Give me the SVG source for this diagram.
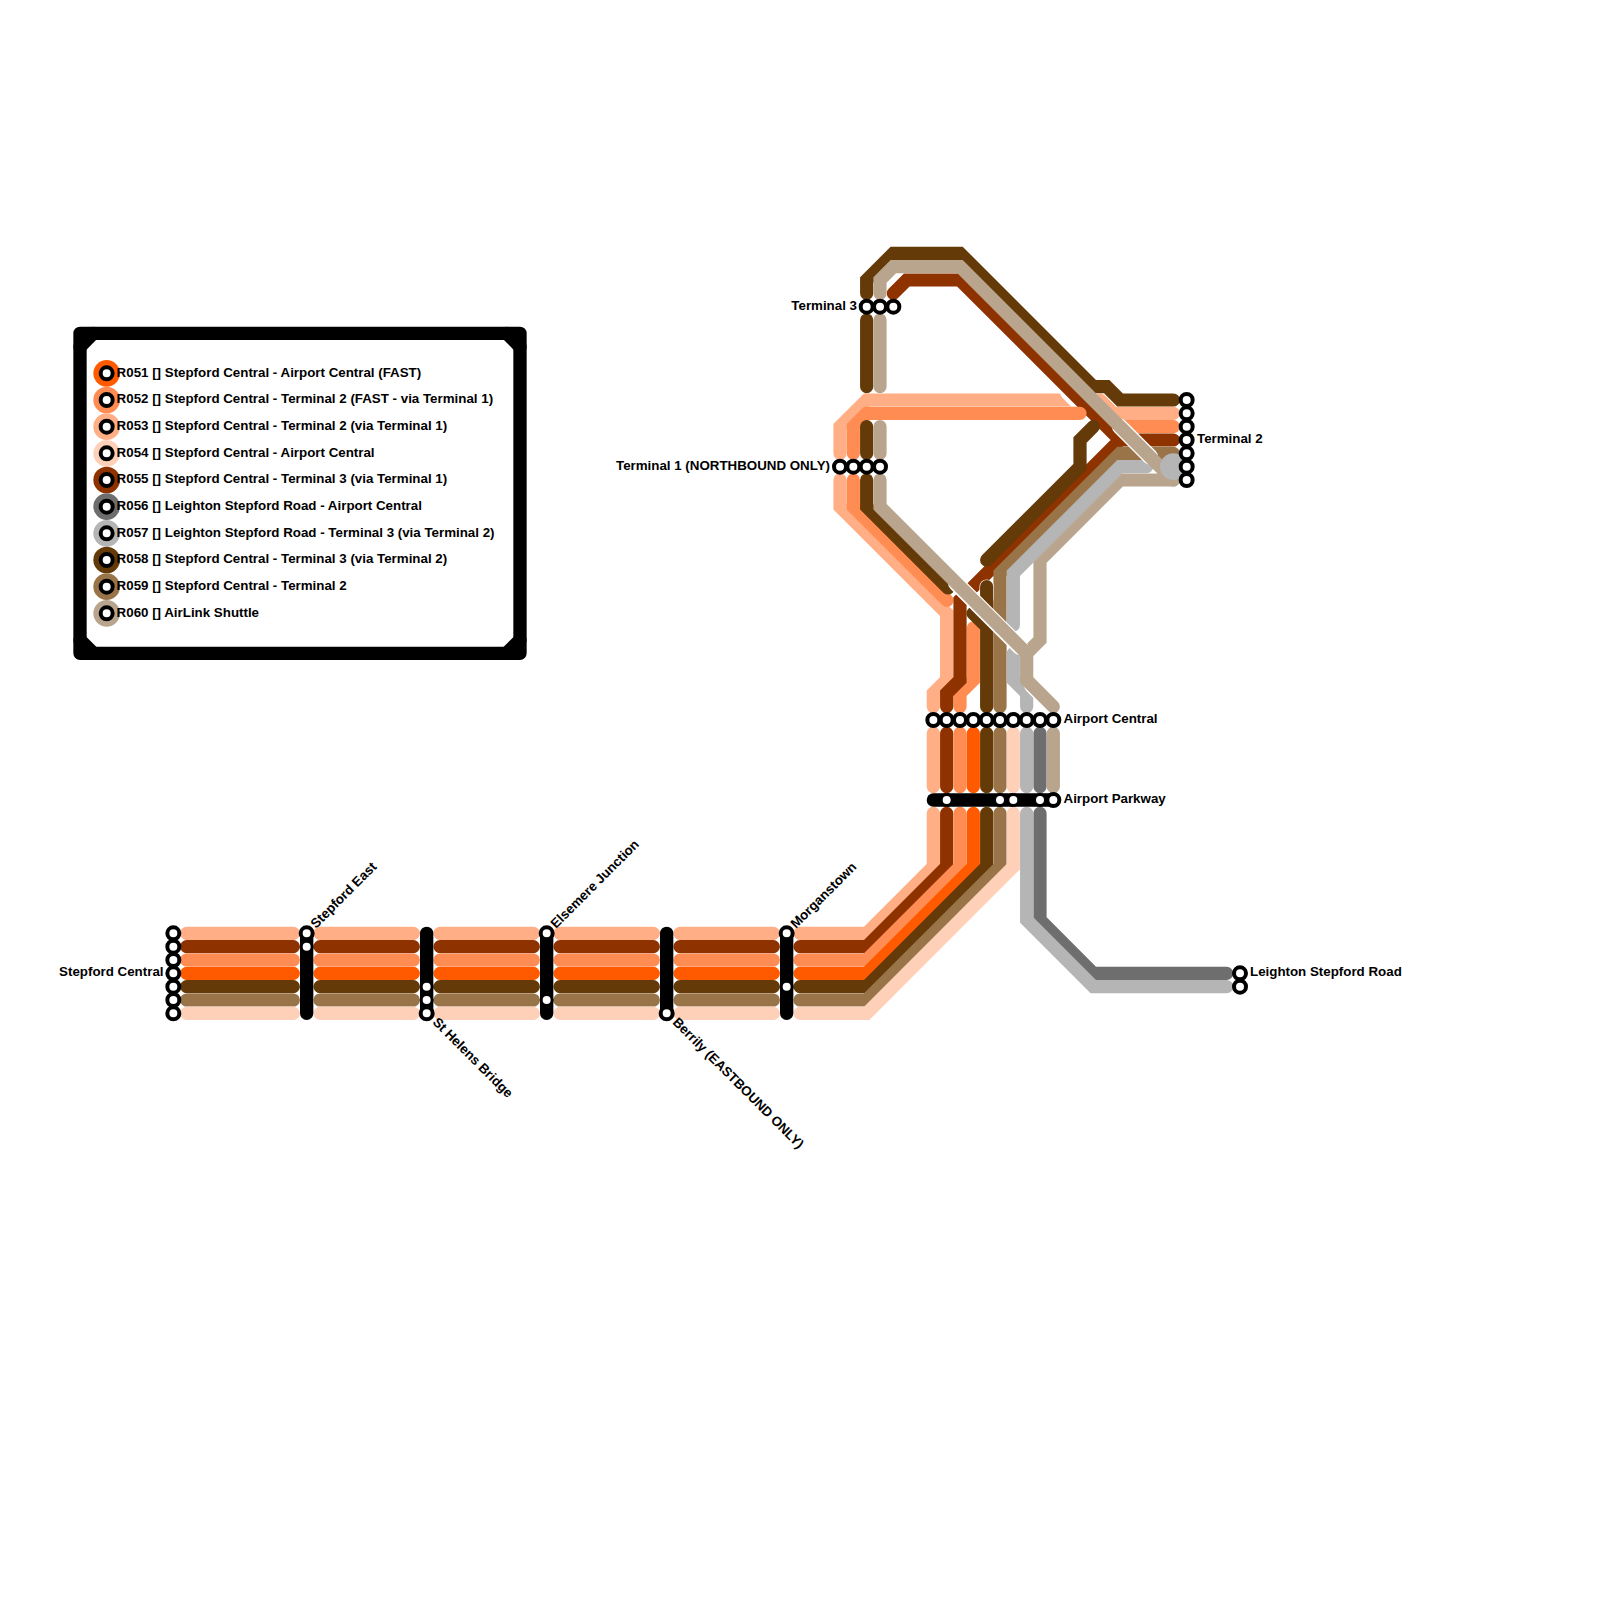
<svg xmlns="http://www.w3.org/2000/svg" width="1600" height="1600" viewBox="0 0 1600 1600">
<style>
.l{fill:none;stroke-width:13.2;stroke-linecap:round;stroke-linejoin:miter}
.h{fill:none;stroke:#fff;stroke-width:16;stroke-linecap:round}
.r051{stroke:#FF5A00}.r052{stroke:#FF8C52}.r053{stroke:#FFAE85}.r054{stroke:#FFD0B8}.r055{stroke:#8E3200}
.r056{stroke:#6E6E6E}.r057{stroke:#B5B5B5}.r058{stroke:#653A09}.r059{stroke:#9A7449}.r060{stroke:#B9A58D}
.bar{fill:none;stroke:#000;stroke-width:13.33;stroke-linecap:round}
.d{fill:#fff;stroke:#000;stroke-width:4}
.e{fill:#fff;stroke:#000;stroke-width:3}
text{font-family:"Liberation Sans",Arial,sans-serif;font-weight:700;font-size:13.33px;fill:#000}
.ld{fill:#fff;stroke:#000;stroke-width:4}
</style>
<g id="legend">
<path d="M80 333.33H520V653.33H80Z" fill="#fff" stroke="#000" stroke-width="13.33" stroke-linejoin="round"/>
<path d="M80 346.67L93.33 333.33M506.67 333.33L520 346.67M520 640L506.67 653.33M93.33 653.33L80 640" fill="none" stroke="#000" stroke-width="13.33" stroke-linecap="round"/>
<g id="legend-r051"><circle cx="106.67" cy="373.33" r="13.33" fill="#FF5A00"/><circle class="ld" cx="106.67" cy="373.33" r="6"/><text x="116.6" y="376.7">R051 [] Stepford Central - Airport Central (FAST)</text></g>
<g id="legend-r052"><circle cx="106.67" cy="400" r="13.33" fill="#FF8C52"/><circle class="ld" cx="106.67" cy="400" r="6"/><text x="116.6" y="403.4">R052 [] Stepford Central - Terminal 2 (FAST - via Terminal 1)</text></g>
<g id="legend-r053"><circle cx="106.67" cy="426.67" r="13.33" fill="#FFAE85"/><circle class="ld" cx="106.67" cy="426.67" r="6"/><text x="116.6" y="430">R053 [] Stepford Central - Terminal 2 (via Terminal 1)</text></g>
<g id="legend-r054"><circle cx="106.67" cy="453.33" r="13.33" fill="#FFD0B8"/><circle class="ld" cx="106.67" cy="453.33" r="6"/><text x="116.6" y="456.7">R054 [] Stepford Central - Airport Central</text></g>
<g id="legend-r055"><circle cx="106.67" cy="480" r="13.33" fill="#8E3200"/><circle class="ld" cx="106.67" cy="480" r="6"/><text x="116.6" y="483.4">R055 [] Stepford Central - Terminal 3 (via Terminal 1)</text></g>
<g id="legend-r056"><circle cx="106.67" cy="506.67" r="13.33" fill="#6E6E6E"/><circle class="ld" cx="106.67" cy="506.67" r="6"/><text x="116.6" y="510">R056 [] Leighton Stepford Road - Airport Central</text></g>
<g id="legend-r057"><circle cx="106.67" cy="533.33" r="13.33" fill="#B5B5B5"/><circle class="ld" cx="106.67" cy="533.33" r="6"/><text x="116.6" y="536.7">R057 [] Leighton Stepford Road - Terminal 3 (via Terminal 2)</text></g>
<g id="legend-r058"><circle cx="106.67" cy="560" r="13.33" fill="#653A09"/><circle class="ld" cx="106.67" cy="560" r="6"/><text x="116.6" y="563.4">R058 [] Stepford Central - Terminal 3 (via Terminal 2)</text></g>
<g id="legend-r059"><circle cx="106.67" cy="586.67" r="13.33" fill="#9A7449"/><circle class="ld" cx="106.67" cy="586.67" r="6"/><text x="116.6" y="590">R059 [] Stepford Central - Terminal 2</text></g>
<g id="legend-r060"><circle cx="106.67" cy="613.33" r="13.33" fill="#B9A58D"/><circle class="ld" cx="106.67" cy="613.33" r="6"/><text x="116.6" y="616.7">R060 [] AirLink Shuttle</text></g>
</g>
<g id="connectors">
<path id="R053" class="l r053" d="M186.67 933.33H293.33M320 933.33H413.33M440 933.33H533.33M560 933.33H653.33M680 933.33H773.33M800 933.33H866.67L933.33 866.67V813.33M933.33 786.67V733.33M933.33 706.67V693.33L946.67 680V613.33L840 506.67V480M840 453.33V426.67L866.67 400H1093M1100 400L1113.33 413.33H1173.33"/>
<path id="R052-a" class="l r052" d="M960 706.67V693.33L973.33 680V628M947 600.33L853.33 506.67V480M853.33 453.33V426.67L866.67 413.33"/>
<path id="R052-c" class="l r052" d="M1122 426.67H1173.33"/>
<path id="R056" class="l r056" d="M1040 733.33V786.67M1040 813.33V920L1093.33 973.33H1226.67"/>
<path class="h" d="M1068 392L1108 432"/>
<path id="R055" class="l r055" d="M186.67 946.67H293.33M320 946.67H413.33M440 946.67H533.33M560 946.67H653.33M680 946.67H773.33M800 946.67H866.67L946.67 866.67V813.33M946.67 786.67V733.33M946.67 706.67V693.33L960 680V600L1120 440L960 280H906.67L893.33 293.33M1120 440H1173.33"/>
<path id="R052-b" class="l r052" d="M866.67 413.33H1080M186.67 960H293.33M320 960H413.33M440 960H533.33M560 960H653.33M680 960H773.33M800 960H866.67L960 866.67V813.33M960 786.67V733.33"/>
<path id="R051" class="l r051" d="M186.67 973.33H293.33M320 973.33H413.33M440 973.33H533.33M560 973.33H653.33M680 973.33H773.33M800 973.33H866.67L973.33 866.67V813.33M973.33 786.67V733.33"/>
<path id="R058-trunk" class="l r058" d="M186.67 986.67H293.33M320 986.67H413.33M440 986.67H533.33M560 986.67H653.33M680 986.67H773.33M800 986.67H866.67L986.67 866.67V813.33M986.67 786.67V733.33"/>
<path id="R059" class="l r059" d="M186.67 1000H293.33M320 1000H413.33M440 1000H533.33M560 1000H653.33M680 1000H773.33M800 1000H866.67L1000 866.67V813.33M1000 786.67V733.33M1000 706.67V573.33L1120 453.33H1173.33"/>
<path id="R054" class="l r054" d="M186.67 1013.33H293.33M320 1013.33H413.33M440 1013.33H533.33M560 1013.33H653.33M680 1013.33H773.33M800 1013.33H866.67L1013.33 866.67V813.33M1013.33 786.67V733.33"/>
<path id="R060-lo" class="l r060" d="M1173.33 480H1120L1040 560V640L1026.67 653.33"/>
<path id="R057-a" class="l r057" d="M1026.67 733.33V786.67M1026.67 813.33V920L1093.33 986.67H1226.67M1026.67 706.67V693.33L1013.33 680V653.33"/>
<path id="R057-b" class="l r057" d="M1013.33 625V573.33L1120 466.67H1146.67"/>
<path class="h" style="stroke-width:14.4" d="M986.67 586.67V598"/>
<path id="R058" class="l r058" d="M986.67 706.67V586.67M973 613.33L986.67 626.67M948 588L866.67 506.67V480M866.67 453.33V426.67M866.67 386.67V320M866.67 293.33V280L893.33 253.33H960L1093.33 386.67H1106.67L1120 400H1173.33M1093.33 426.67L1080 440V466.67L986.67 560"/>
<path class="h" d="M956 583L1020 647M1120 426.67L1150 456.67M1032 685.33L1048 701.33"/>
<path id="R060" class="l r060" d="M880 320V386.67M880 293.33V280L893.33 266.67H960L1173.33 480M880 426.67V453.33M880 480V506.67L1026.67 653.33V680L1053.33 706.67M1053.33 733.33V786.67"/>
<circle id="R057-t2" cx="1173.33" cy="466.67" r="13.33" fill="#B5B5B5"/>
</g>
<g id="stepford-central">
<circle class="d" cx="173.33" cy="933.33" r="6"/><circle class="d" cx="173.33" cy="946.67" r="6"/><circle class="d" cx="173.33" cy="960" r="6"/><circle class="d" cx="173.33" cy="973.33" r="6"/><circle class="d" cx="173.33" cy="986.67" r="6"/><circle class="d" cx="173.33" cy="1000" r="6"/><circle class="d" cx="173.33" cy="1013.33" r="6"/>
<text x="163.5" y="976.3" text-anchor="end">Stepford Central</text></g>
<g id="stepford-east"><path class="bar" d="M306.67 933.33V1013.33"/><circle class="d" cx="306.67" cy="933.33" r="6"/><circle class="e" cx="306.67" cy="946.67" r="5.5"/>
<text transform="translate(316 929) rotate(-45)">Stepford East</text></g>
<g id="st-helens-bridge"><path class="bar" d="M426.67 933.33V1013.33"/><circle class="e" cx="426.67" cy="986.67" r="5.5"/><circle class="e" cx="426.67" cy="1000" r="5.5"/><circle class="d" cx="426.67" cy="1013.33" r="6"/>
<text transform="translate(432 1023) rotate(45)">St Helens Bridge</text></g>
<g id="elsemere-junction"><path class="bar" d="M546.67 933.33V1013.33"/><circle class="d" cx="546.67" cy="933.33" r="6"/><circle class="e" cx="546.67" cy="1000" r="5.5"/>
<text transform="translate(556 929) rotate(-45)">Elsemere Junction</text></g>
<g id="berrily"><path class="bar" d="M666.67 933.33V1013.33"/><circle class="d" cx="666.67" cy="1013.33" r="6"/>
<text transform="translate(672 1023) rotate(45)">Berrily (EASTBOUND ONLY)</text></g>
<g id="morganstown"><path class="bar" d="M786.67 933.33V1013.33"/><circle class="d" cx="786.67" cy="933.33" r="6"/><circle class="e" cx="786.67" cy="986.67" r="5.5"/>
<text transform="translate(796 929) rotate(-45)">Morganstown</text></g>
<g id="airport-central">
<circle class="d" cx="933.33" cy="720" r="6"/><circle class="d" cx="946.67" cy="720" r="6"/><circle class="d" cx="960" cy="720" r="6"/><circle class="d" cx="973.33" cy="720" r="6"/><circle class="d" cx="986.67" cy="720" r="6"/><circle class="d" cx="1000" cy="720" r="6"/><circle class="d" cx="1013.33" cy="720" r="6"/><circle class="d" cx="1026.67" cy="720" r="6"/><circle class="d" cx="1040" cy="720" r="6"/><circle class="d" cx="1053.33" cy="720" r="6"/>
<text x="1063.5" y="723">Airport Central</text></g>
<g id="airport-parkway"><path class="bar" d="M933.33 800H1053.33"/>
<circle class="e" cx="946.67" cy="800" r="5.5"/><circle class="e" cx="1000" cy="800" r="5.5"/><circle class="e" cx="1013.33" cy="800" r="5.5"/><circle class="e" cx="1040" cy="800" r="5.5"/><circle class="d" cx="1053.33" cy="800" r="6"/>
<text x="1063.5" y="803">Airport Parkway</text></g>
<g id="terminal-1">
<circle class="d" cx="840" cy="466.67" r="6"/><circle class="d" cx="853.33" cy="466.67" r="6"/><circle class="d" cx="866.67" cy="466.67" r="6"/><circle class="d" cx="880" cy="466.67" r="6"/>
<text x="830" y="469.5" text-anchor="end">Terminal 1 (NORTHBOUND ONLY)</text></g>
<g id="terminal-3">
<circle class="d" cx="866.67" cy="306.67" r="6"/><circle class="d" cx="880" cy="306.67" r="6"/><circle class="d" cx="893.33" cy="306.67" r="6"/>
<text x="857" y="309.5" text-anchor="end">Terminal 3</text></g>
<g id="terminal-2">
<circle class="d" cx="1186.67" cy="400" r="6"/><circle class="d" cx="1186.67" cy="413.33" r="6"/><circle class="d" cx="1186.67" cy="426.67" r="6"/><circle class="d" cx="1186.67" cy="440" r="6"/><circle class="d" cx="1186.67" cy="453.33" r="6"/><circle class="d" cx="1186.67" cy="466.67" r="6"/><circle class="d" cx="1186.67" cy="480" r="6"/>
<text x="1197" y="442.5">Terminal 2</text></g>
<g id="leighton-stepford-road">
<circle class="d" cx="1240" cy="973.33" r="6"/><circle class="d" cx="1240" cy="986.67" r="6"/>
<text x="1250" y="976">Leighton Stepford Road</text></g>
</svg>
